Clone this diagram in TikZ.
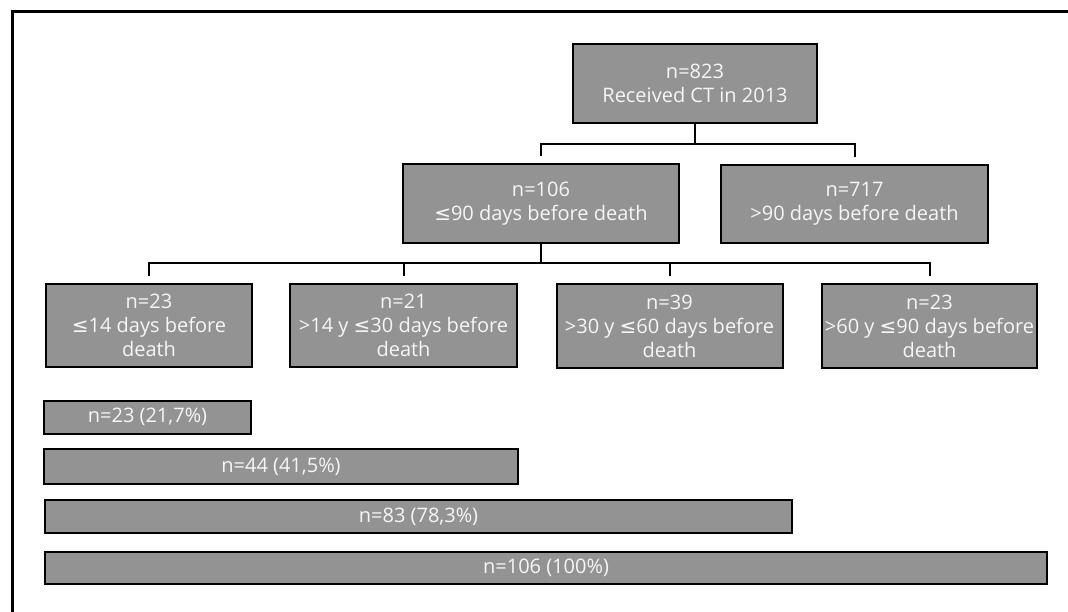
\documentclass[tikz,border=0pt]{standalone}
\usepackage{fontspec}
\setmainfont{Open Sans}
\newfontfamily\symfont{DejaVu Sans}
\newcommand\lesign{{\symfont ≤}}
\usetikzlibrary{calc}
\definecolor{boxgray}{HTML}{939393}
\definecolor{boxtext}{HTML}{F6F6F6}
\tikzset{
  box/.style={draw=black, line width=2pt, fill=boxgray, text=boxtext, align=center,
    inner sep=0pt, font=\fontsize{20}{24}\selectfont},
  lvl/.style={box, minimum height=83pt},
  bar/.style={box, minimum height=33pt},
  link/.style={line width=2pt},
}
\begin{document}
\begin{tikzpicture}[x=1pt,y=-1pt]
  \useasboundingbox (0,0) rectangle (1068,612);
  \draw[line width=3pt] (12,612) -- (12,12) -- (1068,12);
  % tree
  \node (Tot) at (695,83.5) [box, minimum width=244pt, minimum height=79pt] {n=823\\Received CT in 2013};
  \node (Le) at (541,203.5) [box, minimum width=276pt, minimum height=79pt] {n=106\\\lesign90 days before death};
  \node (Gt) at (854.5,204) [box, minimum width=267pt, minimum height=78pt] {n=717\\>90 days before death};
  \node (Da) at (149,325.5) [lvl, minimum width=206pt] {n=23\\\lesign14 days before\\death};
  \node (Db) at (403.5,325.5) [lvl, minimum width=227pt] {n=21\\>14 y \lesign30 days before\\death};
  \node (Dc) at (669.5,326) [lvl, minimum width=226pt] {n=39\\>30 y \lesign60 days before\\death};
  \node (Dd) at (929.5,326) [lvl, minimum width=215pt] {n=23\\>60 y \lesign90 days before\\death};
  \coordinate (J1) at (695,144);
  \coordinate (J2) at (541,263.5);
  \draw[link] (Tot.south) -- (J1);
  \draw[link] ([yshift=7pt]Le.north) |- (J1) -| ([yshift=7pt]Gt.north);
  \draw[link] (Le.south) -- (J2);
  \draw[link] ([yshift=7pt]Da.north) |- (J2) -| ([yshift=7pt]Dd.north);
  \draw[link] ([yshift=7pt]Db.north) -- (Db.north |- J2);
  \draw[link] ([yshift=7pt]Dc.north) -- (Dc.north |- J2);
  % cumulative bars
  \node (Ba) at (147.5,417) [bar, minimum width=207pt] {n=23 (21,7\%)};
  \node (Bb) at (281,466.5) [bar, minimum width=474pt, minimum height=35pt] {n=44 (41,5\%)};
  \node (Bc) at (418.5,516.5) [bar, minimum width=747pt] {n=83 (78,3\%)};
  \node (Bd) at (546,568) [bar, minimum width=1002pt, minimum height=32pt] {n=106 (100\%)};
\end{tikzpicture}
\end{document}
